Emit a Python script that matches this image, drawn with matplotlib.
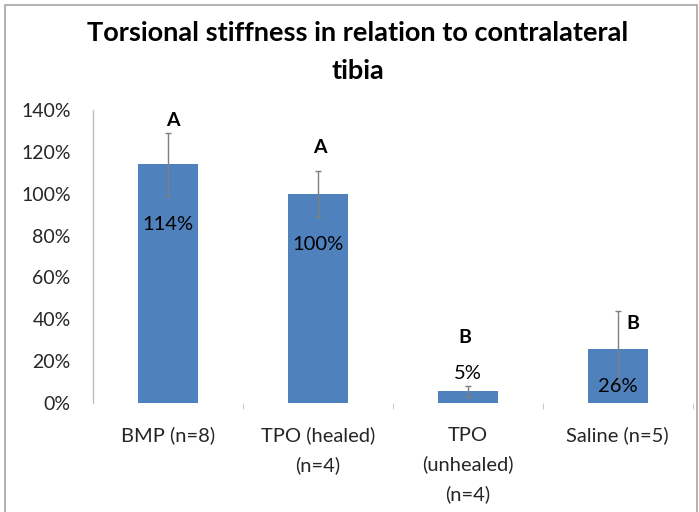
import matplotlib
matplotlib.use("Agg")
import matplotlib.pyplot as plt
import matplotlib.patches as mpatches
from matplotlib.ticker import PercentFormatter

# data
groups = ["BMP (n=8)", "TPO (healed)\n(n=4)", "TPO\n(unhealed)\n(n=4)", "Saline (n=5)"]
values = [1.14, 1.00, 0.055, 0.26]
errors = [0.15, 0.11, 0.025, 0.18]
value_labels = ["114%", "100%", "5%", "26%"]
value_label_y = [0.855, 0.755, 0.14, 0.08]
letters = ["A", "A", "B", "B"]
letter_x = [0.03, 0.01, -0.02, 0.10]
letter_y = [1.35, 1.22, 0.315, 0.38]

BAR = "#4F81BD"
AXIS = "#BFBFBF"
TEXT = "#262626"

plt.rcParams["font.family"] = ["Lato", "DejaVu Sans"]

fig = plt.figure(figsize=(6.99, 5.12), dpi=100)
ax = fig.add_axes([0.133, 0.2129, 0.858, 0.5723])

x = list(range(len(groups)))
ax.bar(x, values, width=0.4, color=BAR, zorder=2)
ax.errorbar(x, values, yerr=errors, fmt="none", ecolor="#7F7F7F",
            elinewidth=1, capsize=2.5, capthick=1, zorder=3)

for xi, lab, ly in zip(x, value_labels, value_label_y):
    ax.text(xi, ly, lab, ha="center", va="center", fontsize=14.5, color="black", zorder=4)
for xi, dx, l, ly in zip(x, letter_x, letters, letter_y):
    ax.text(xi + dx, ly, l, ha="center", va="center", fontsize=14,
            fontweight="bold", color="black", zorder=4)

ax.set_xlim(-0.5, 3.5)
ax.set_ylim(0, 1.4)
ax.set_yticks([i * 0.2 for i in range(8)])
ax.yaxis.set_major_formatter(PercentFormatter(1.0, decimals=0))
ax.set_xticks(x)
ax.set_xticklabels(groups, fontsize=14.5, color=TEXT, linespacing=1.8, va="top")
ax.set_xticks([0.5, 1.5, 2.5, 3.5], minor=True)
ax.tick_params(axis="x", which="major", length=0, pad=17)
ax.tick_params(axis="x", which="minor", length=4, color=AXIS, direction="out")
ax.tick_params(axis="y", length=0, pad=16, labelsize=14, labelcolor=TEXT)

for s in ["top", "right", "bottom"]:
    ax.spines[s].set_visible(False)
ax.spines["left"].set_color(AXIS)
ax.spines["left"].set_linewidth(1)

fig.text(0.512, 0.8975, "Torsional stiffness in relation to contralateral\ntibia",
         ha="center", va="center", fontsize=19.5, fontweight="bold",
         color="black", linespacing=1.7)

# chart frame
frame = mpatches.Rectangle((5 / 699, -0.05), 692 / 699, 1.05 - 5 / 512,
                           transform=fig.transFigure, fill=False,
                           edgecolor="#A6A6A6", linewidth=1.2, clip_on=False)
fig.patches.append(frame)

fig.savefig("out.png", dpi=100)
